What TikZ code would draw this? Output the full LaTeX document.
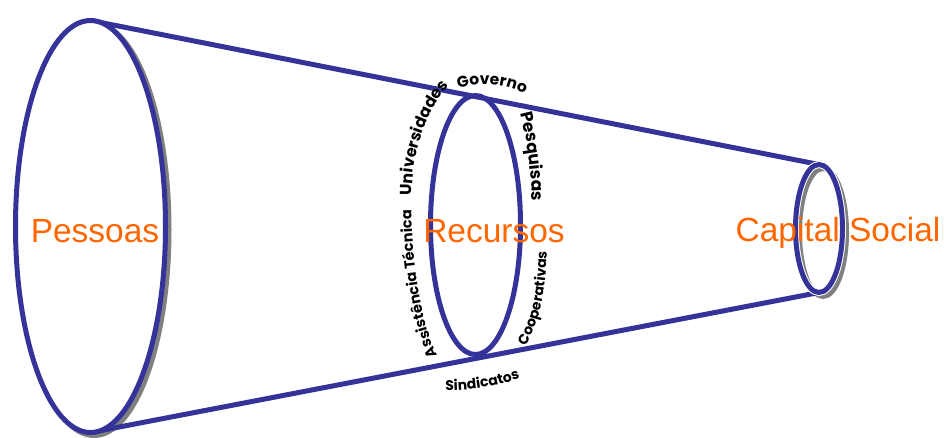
\documentclass[tikz,border=0pt]{standalone}
\usepackage{fontspec}
\setmainfont{Liberation Sans}
\newfontfamily\lblfont{Poppins}
\usetikzlibrary{decorations.text}
\definecolor{funblue}{HTML}{333399}
\definecolor{shadowgray}{HTML}{808080}
\definecolor{labelorange}{HTML}{FF6600}
\tikzset{
  rim/.style={draw=funblue, line width=5pt},
  rimshadow/.style={draw=shadowgray, line width=5pt},
  bigtext/.style={text=labelorange, font=\fontsize{33.5}{40}\selectfont, anchor=base, inner sep=0pt},
  curvetext/.style={decorate, decoration={text along path, text align=center, text color=black}}
}
\begin{document}
\begin{tikzpicture}[x=1pt, y=-1pt]
\useasboundingbox (0,0) rectangle (944,437);
% shadows
\draw[rimshadow, fill=shadowgray] (94,229.5) ellipse [x radius=75, y radius=206];
\draw[rimshadow] (823,232.5) ellipse [x radius=23.5, y radius=64];
% coordinates on rims
\coordinate (bigtop) at (90.5,20.5);
\coordinate (bigbot) at (90.5,432.5);
\coordinate (smalltop) at (819,164.5);
\coordinate (smallbot) at (819,292.5);
% cone lines
\draw[rim] (bigtop) -- (smalltop);
\draw[rim] (bigbot) -- (smallbot);
% rims
\draw[rim, fill=white] (90.5,226.5) ellipse [x radius=75, y radius=206];
\draw[draw=white, line width=7pt] (819,228.5) ellipse [x radius=23.5, y radius=64];
\draw[rim] (819,228.5) ellipse [x radius=23.5, y radius=64];
\draw[rim] (475.5,225) ellipse [x radius=45, y radius=129.5];
% main labels
\node[bigtext] (pessoas) at (95,242) {Pessoas};
\node[bigtext] (recursos) at (494,242) {Recursos};
\node[bigtext] (capital) at (838,241) {Capital Social};
% curved labels
\path[curvetext, decoration={text={|\lblfont\bfseries\fontsize{15.5}{18}\selectfont|Governo}}]
  (452,91) .. controls (475,80) and (511,82) .. (530,98);
\path[curvetext, decoration={text={|\lblfont\bfseries\fontsize{16}{19}\selectfont|Universidades}}]
  (412,200) .. controls (410,150) and (430,105) .. (452,82);
\path[curvetext, decoration={text={|\lblfont\bfseries\fontsize{17}{21}\selectfont|Pesquisas}}]
  (518,105) .. controls (527,135) and (532,170) .. (532,210);
\path[curvetext, decoration={text={|\lblfont\bfseries\fontsize{14.5}{17}\selectfont|Assistência Técnica}}]
  (442,364) .. controls (419,325) and (412,260) .. (411,200);
\path[curvetext, decoration={text={|\lblfont\bfseries\fontsize{14}{17}\selectfont|Cooperativas}}]
  (522,352) .. controls (541,322) and (546,290) .. (547,245);
\path[curvetext, decoration={text={|\lblfont\bfseries\fontsize{14}{16}\selectfont|Sindicatos}}]
  (439,390) .. controls (465,392) and (500,386) .. (526,376);
\end{tikzpicture}
\end{document}
